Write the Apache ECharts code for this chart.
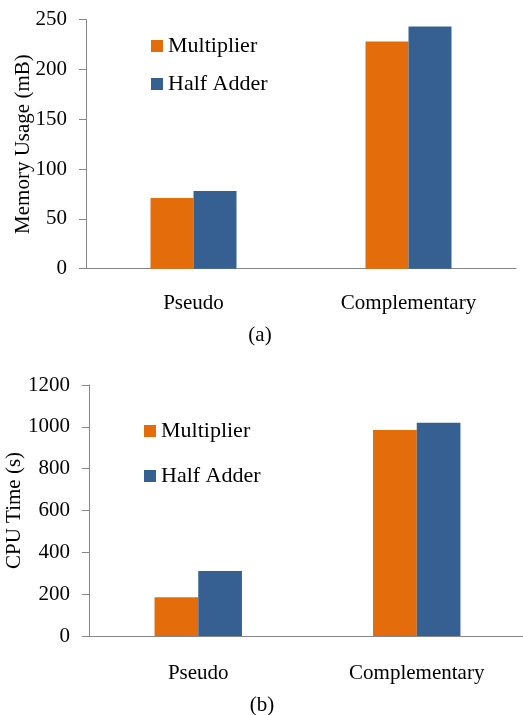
<!DOCTYPE html>
<html>
<head>
<meta charset="utf-8">
<script src="https://cdn.jsdelivr.net/npm/echarts@6/dist/echarts.min.js"></script>
<style>
html,body{margin:0;padding:0;background:#fff;}
#main{width:523px;height:715px;}
</style>
</head>
<body>
<div id="main"></div>
<script>
const categories = ['Pseudo', 'Complementary'];
const seriesNames = ['Multiplier', 'Half Adder'];
const memMultiplier = [71, 228];
const memHalfAdder = [78, 243];
const cpuMultiplier = [185, 985];
const cpuHalfAdder = [311, 1020];
const memTicks = [0, 50, 100, 150, 200, 250];
const cpuTicks = [0, 200, 400, 600, 800, 1000, 1200];
const colors = ['#E46C0A', '#376092'];

const FONT = '"Liberation Serif", "Times New Roman", serif';
const chart = echarts.init(document.getElementById('main'), null, {renderer: 'canvas'});

function xAxisCfg(gridIndex, margin) {
  return {
    type: 'category', gridIndex, data: categories,
    axisLine: {lineStyle: {color: '#868686', width: 1}},
    axisTick: {alignWithLabel: true, length: 5, lineStyle: {color: '#333'}},
    axisLabel: {fontFamily: FONT, fontSize: 21, color: '#000', margin}
  };
}
function yAxisCfg(gridIndex, ticks, name, nameGap) {
  return {
    type: 'value', gridIndex,
    min: ticks[0], max: ticks[ticks.length - 1], interval: ticks[1] - ticks[0],
    name, nameLocation: 'middle', nameGap, nameMoveOverlap: false,
    nameTextStyle: {fontFamily: FONT, fontSize: 21, color: '#000'},
    axisLine: {show: true, lineStyle: {color: '#868686', width: 1}},
    axisTick: {show: true, length: 7, lineStyle: {color: '#868686'}},
    splitLine: {show: false},
    axisLabel: {fontFamily: FONT, fontSize: 21, color: '#000', margin: 19,
      formatter: (v) => String(v)}
  };
}

chart.setOption({
  animation: false,
  backgroundColor: '#fff',
  grid: [
    {left: 86, top: 19.5, width: 430, height: 249.2, containLabel: false, outerBoundsMode: 'none'},
    {left: 89, top: 385, width: 437, height: 251, containLabel: false, outerBoundsMode: 'none'}
  ],
  xAxis: [xAxisCfg(0, 24), xAxisCfg(1, 27)],
  yAxis: [
    yAxisCfg(0, memTicks, 'Memory Usage (mB)', 52),
    yAxisCfg(1, cpuTicks, 'CPU Time (s)', 64)
  ],
  legend: [
    {
      left: 146, top: 30, orient: 'vertical', itemWidth: 12, itemHeight: 12, itemGap: 16,
      icon: 'rect',
      textStyle: {fontFamily: FONT, fontSize: 22, color: '#000', padding: [0, 0, 0, 0]},
      data: seriesNames.map((n) => ({name: n}))
    },
    {
      left: 139, top: 415, orient: 'vertical', itemWidth: 12, itemHeight: 12, itemGap: 23,
      icon: 'rect',
      textStyle: {fontFamily: FONT, fontSize: 22, color: '#000', padding: [0, 0, 0, 0]},
      data: seriesNames.map((n) => ({name: n}))
    }
  ],
  graphic: [
    {type: 'text', x: 260, y: 335, style: {text: '(a)', font: '21px ' + FONT, fill: '#000',
      align: 'center', verticalAlign: 'middle'}},
    {type: 'text', x: 262, y: 705, style: {text: '(b)', font: '21px ' + FONT, fill: '#000',
      align: 'center', verticalAlign: 'middle'}}
  ],
  series: [
    {name: seriesNames[0], type: 'bar', xAxisIndex: 0, yAxisIndex: 0, data: memMultiplier,
      barWidth: '20%', barGap: '0%', itemStyle: {color: colors[0]}},
    {name: seriesNames[1], type: 'bar', xAxisIndex: 0, yAxisIndex: 0, data: memHalfAdder,
      barWidth: '20%', barGap: '0%', itemStyle: {color: colors[1]}},
    {name: seriesNames[0], type: 'bar', xAxisIndex: 1, yAxisIndex: 1, data: cpuMultiplier,
      barWidth: '20%', barGap: '0%', itemStyle: {color: colors[0]}},
    {name: seriesNames[1], type: 'bar', xAxisIndex: 1, yAxisIndex: 1, data: cpuHalfAdder,
      barWidth: '20%', barGap: '0%', itemStyle: {color: colors[1]}}
  ]
});
</script>
</body>
</html>
